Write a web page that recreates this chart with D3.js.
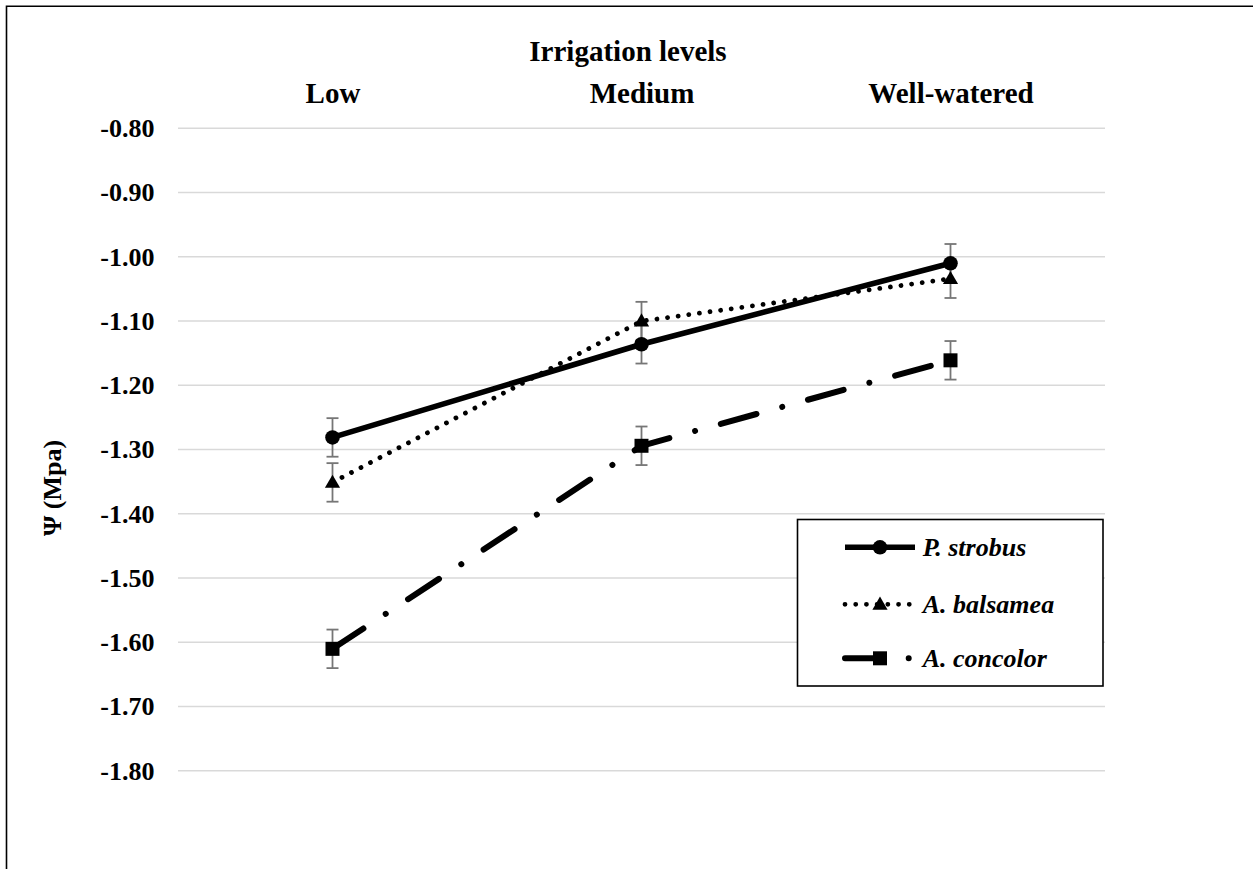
<!DOCTYPE html>
<html>
<head>
<meta charset="utf-8">
<script src="https://cdn.jsdelivr.net/npm/d3@7"></script>
<style>
  html, body { margin: 0; padding: 0; background: #fff; }
  svg { display: block; }
  text { font-family: "Liberation Serif", "Times New Roman", serif; font-weight: bold; fill: #000; }
</style>
</head>
<body>
<svg id="chart" width="1253" height="869"></svg>
<script>
// Irrigation treatments (top category axis)
const categories = ["Low", "Medium", "Well-watered"];

// Water potential (MPa) per species, with error bar half-widths
const pStrobus   = [-1.282, -1.137, -1.011];
const aBalsamea  = [-1.352, -1.101, -1.035];
const aConcolor  = [-1.611, -1.295, -1.162];
const pStrobusErr  = [0.03, 0.03, 0.03];
const aBalsameaErr = [0.03, 0.03, 0.03];
const aConcolorErr = [0.03, 0.03, 0.03];

const speciesNames = ["P. strobus", "A. balsamea", "A. concolor"];
const yTicks = [-0.8, -0.9, -1.0, -1.1, -1.2, -1.3, -1.4, -1.5, -1.6, -1.7, -1.8];

const series = [
  { name: speciesNames[0], values: pStrobus,  err: pStrobusErr,  marker: "circle",
    dash: null, width: 5.6 },
  { name: speciesNames[1], values: aBalsamea, err: aBalsameaErr, marker: "triangle",
    dash: "0.01 10.7", width: 4.8 },
  { name: speciesNames[2], values: aConcolor, err: aConcolorErr, marker: "square",
    dash: "37 26.7 0.01 26.7", width: 6 }
];

const svg = d3.select("#chart");

const x = d3.scalePoint().domain(categories).range([178, 1105]).padding(0.5);
const y = d3.scaleLinear().domain([-0.8, -1.8]).range([127.7, 770.3]);

// Chart frame (top and left edges)
svg.append("path")
  .attr("d", "M6.5,869 V6.3 H1253")
  .attr("fill", "none").attr("stroke", "#000").attr("stroke-width", 1.6);

// Horizontal gridlines and value labels (plain hyphen for the sign)
const fmt = d3.format(".2f");
const yAxis = d3.axisLeft(y).tickValues(yTicks).tickSize(0).tickPadding(0)
  .tickFormat(d => fmt(d).replace("\u2212", "-"));
const gy = svg.append("g").attr("transform", "translate(178,0)").call(yAxis);
gy.select(".domain").remove();
gy.selectAll(".tick line").remove();
gy.selectAll(".tick").insert("line", ":first-child")
  .attr("x1", 0).attr("x2", 927)
  .attr("stroke", "#d9d9d9").attr("stroke-width", 1.6);
gy.selectAll(".tick text")
  .attr("x", -23.5).attr("dy", null).attr("y", 8.8)
  .attr("text-anchor", "end")
  .style("font-family", "'Liberation Serif', serif")
  .style("font-weight", "bold").style("font-size", "26px").attr("fill", "#000");

// Category labels along the top
const xAxis = d3.axisTop(x).tickSize(0).tickPadding(0);
const gx = svg.append("g").attr("transform", "translate(0,103.3)").call(xAxis);
gx.select(".domain").remove();
gx.selectAll(".tick text")
  .attr("y", 0).attr("dy", null)
  .style("font-family", "'Liberation Serif', serif")
  .style("font-weight", "bold").style("font-size", "29px").attr("fill", "#000");

// Axis titles
svg.append("text").attr("x", 628).attr("y", 61)
  .attr("text-anchor", "middle").style("font-size", "29px")
  .text("Irrigation levels");

svg.append("text")
  .attr("transform", "translate(61,488) rotate(-90)")
  .attr("text-anchor", "middle").style("font-size", "26px")
  .text("Ψ (Mpa)");

// Marker symbols
const symbolFor = {
  circle: d3.symbol().type(d3.symbolCircle).size(Math.PI * 7.3 * 7.3),
  triangle: d3.symbol().type(d3.symbolTriangle).size(100),
  square: d3.symbol().type(d3.symbolSquare).size(14 * 14)
};

const plot = svg.append("g");

// Error bars
series.forEach(s => {
  const g = plot.append("g").attr("stroke", "#767676").attr("stroke-width", 1.8).attr("fill", "none");
  s.values.forEach((v, i) => {
    const cx = x(categories[i]);
    const y1 = y(v + s.err[i]), y2 = y(v - s.err[i]);
    g.append("line").attr("x1", cx).attr("x2", cx).attr("y1", y1).attr("y2", y2);
    g.append("line").attr("x1", cx - 6).attr("x2", cx + 6).attr("y1", y1).attr("y2", y1);
    g.append("line").attr("x1", cx - 6).attr("x2", cx + 6).attr("y1", y2).attr("y2", y2);
  });
});

// Series lines
const line = d3.line().x((d, i) => x(categories[i])).y(d => y(d));
series.forEach(s => {
  plot.append("path")
    .attr("d", line(s.values))
    .attr("fill", "none").attr("stroke", "#000")
    .attr("stroke-width", s.width)
    .attr("stroke-linecap", s.dash ? "round" : "butt")
    .attr("stroke-linejoin", "round")
    .attr("stroke-dasharray", s.dash);
});

// Markers
series.forEach(s => {
  s.values.forEach((v, i) => {
    plot.append("path")
      .attr("d", symbolFor[s.marker]())
      .attr("transform", `translate(${x(categories[i])},${y(v) + (s.marker === "triangle" ? 1 : 0)})`)
      .attr("fill", "#000");
  });
});

// Legend
const legend = svg.append("g");
legend.append("rect")
  .attr("x", 797.5).attr("y", 519.5).attr("width", 305.5).attr("height", 166.5)
  .attr("fill", "#fff").attr("stroke", "#000").attr("stroke-width", 1.6);

const legendY = [547.3, 604.3, 658.3];
series.forEach((s, i) => {
  const ly = legendY[i];
  legend.append("line")
    .attr("x1", 845).attr("x2", 915).attr("y1", ly).attr("y2", ly)
    .attr("stroke", "#000").attr("stroke-width", s.width)
    .attr("stroke-linecap", s.dash ? "round" : "butt")
    .attr("stroke-dasharray", s.dash);
  legend.append("path")
    .attr("d", symbolFor[s.marker]())
    .attr("transform", `translate(880,${ly + (s.marker === "triangle" ? 1 : 0)})`)
    .attr("fill", "#000");
  legend.append("text")
    .attr("x", 922.7).attr("y", ly + 8.4)
    .style("font-size", "26px").style("font-style", "italic")
    .text(s.name);
});
</script>
</body>
</html>
